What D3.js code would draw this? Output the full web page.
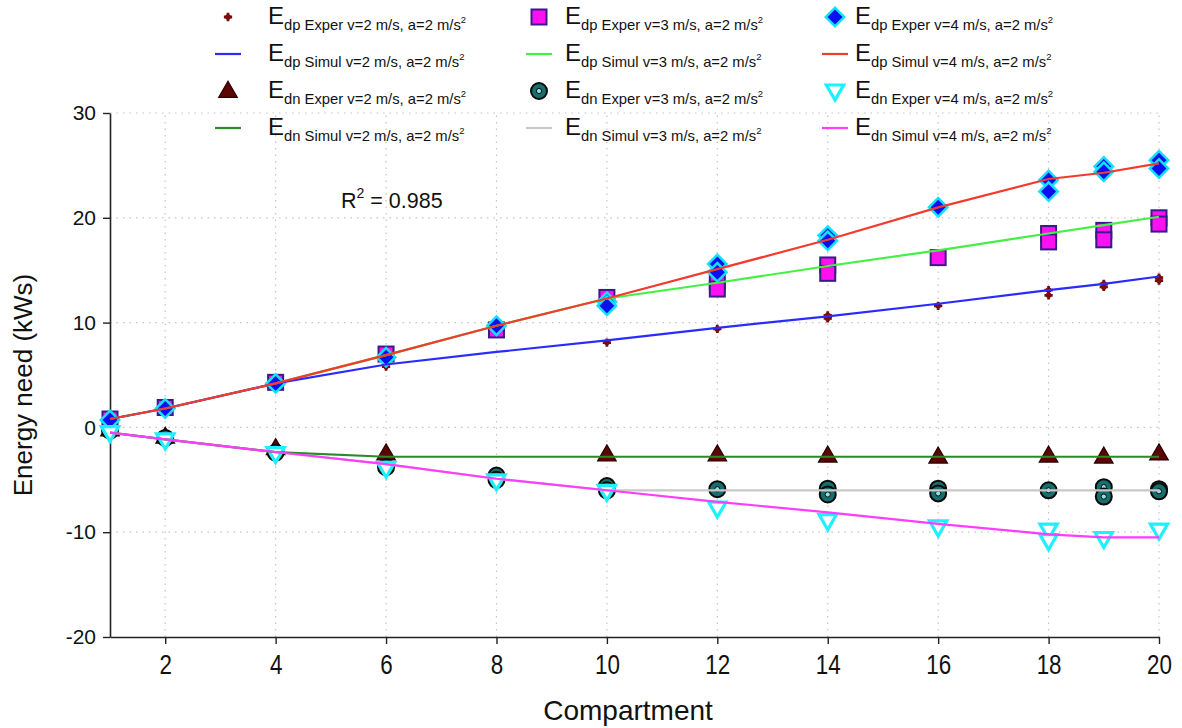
<!DOCTYPE html>
<html><head><meta charset="utf-8">
<script src="https://cdn.jsdelivr.net/npm/d3@7"></script>
<style>
html,body{margin:0;padding:0;background:#fff;}
svg{display:block;font-family:"Liberation Sans",Arial,sans-serif;}
</style></head>
<body><svg id="c" width="1182" height="728"></svg>
<script>
// ---------- data ----------
const xTicks = [2,4,6,8,10,12,14,16,18,20];
const yTicks = [-20,-10,0,10,20,30];

const simX = [1,2,4,6,8,10,12,14,16,18,19,20];
const edpSim2 = [0.8,1.8,4.2,6.0,7.2,8.3,9.5,10.6,11.8,13.1,13.7,14.4];
const edpSim3 = [0.8,1.8,4.2,6.9,9.7,12.3,13.8,15.4,16.9,18.5,19.3,20.1];
const edpSim4 = [0.8,1.8,4.2,6.9,9.7,12.3,15.1,17.9,21.0,23.7,24.3,25.2];
const ednSim2 = [-0.5,-1.15,-2.35,-2.8,-2.8,-2.8,-2.8,-2.8,-2.8,-2.8,-2.8,-2.8];
const ednSim3 = [-0.5,-1.15,-2.35,-3.5,-4.9,-6.0,-6.0,-6.0,-6.0,-6.0,-6.0,-6.0];
const ednSim4 = [-0.5,-1.15,-2.35,-3.5,-4.9,-6.0,-7.1,-8.1,-9.2,-10.2,-10.5,-10.5];

const edpExp2X = [1,2,4,6,10,12,14,14,16,18,18,19,19,20,20];
const edpExp2Y = [0.4,1.8,4.3,5.8,8.1,9.4,10.7,10.4,11.6,13.1,12.6,13.7,13.4,14.3,14.0];
const edpExp3X = [1,2,4,6,8,10,12,12,14,14,16,18,18,19,19,20,20];
const edpExp3Y = [0.8,1.9,4.3,7.0,9.3,12.4,13.9,13.2,15.5,14.7,16.2,18.5,17.7,18.8,17.9,20.0,19.4];
const edpExp4X = [1,2,4,6,8,10,10,12,12,14,14,16,18,18,19,19,20,20];
const edpExp4Y = [0.7,1.8,4.2,6.7,9.7,12.0,11.6,15.6,14.8,18.3,17.8,21.0,23.6,22.5,24.9,24.4,25.5,24.7];
const ednExp2X = [1,2,4,6,10,12,14,16,18,19,20];
const ednExp2Y = [-0.2,-0.9,-2.0,-2.5,-2.6,-2.6,-2.7,-2.8,-2.7,-2.8,-2.5];
const ednExp3X = [1,2,4,6,8,8,10,10,12,14,14,16,16,18,19,19,20,20];
const ednExp3Y = [-0.3,-1.0,-2.4,-3.8,-4.6,-5.0,-5.6,-6.0,-5.9,-5.85,-6.4,-5.85,-6.3,-6.0,-5.7,-6.6,-5.9,-6.1];
const ednExp4X = [1,2,4,6,8,10,12,14,16,18,18,19,20];
const ednExp4Y = [-0.5,-1.2,-2.5,-3.9,-5.1,-6.1,-7.7,-8.9,-9.5,-9.8,-10.8,-10.6,-9.8];

const legendLabels = [
  ["dp"," Exper v=2 m/s, a=2 m/s"],["dp"," Simul v=2 m/s, a=2 m/s"],
  ["dn"," Exper v=2 m/s, a=2 m/s"],["dn"," Simul v=2 m/s, a=2 m/s"],
  ["dp"," Exper v=3 m/s, a=2 m/s"],["dp"," Simul v=3 m/s, a=2 m/s"],
  ["dn"," Exper v=3 m/s, a=2 m/s"],["dn"," Simul v=3 m/s, a=2 m/s"],
  ["dp"," Exper v=4 m/s, a=2 m/s"],["dp"," Simul v=4 m/s, a=2 m/s"],
  ["dn"," Exper v=4 m/s, a=2 m/s"],["dn"," Simul v=4 m/s, a=2 m/s"]
];
const rSquared = "0.985";

// ---------- styles ----------
const lineStyle = {
  edpSim2:{color:"#2b2bff"}, edpSim3:{color:"#44f044"}, edpSim4:{color:"#f23b2e"},
  ednSim2:{color:"#2a8a2a"}, ednSim3:{color:"#c8c8c8"}, ednSim4:{color:"#ff3cff"}
};

const svg = d3.select("#c");
const x = d3.scaleLinear().domain([1,20]).range([110,1159]);
const y = d3.scaleLinear().domain([-20,30]).range([637,113]);

// grid
const grid = svg.append("g");
grid.selectAll("line.v").data(xTicks).join("line")
  .attr("x1",d=>x(d)).attr("x2",d=>x(d)).attr("y1",y(-20)).attr("y2",y(30))
  .attr("stroke","#c4c4c4").attr("stroke-width",1.2).attr("stroke-dasharray","1.5,5");
grid.selectAll("line.h").data(yTicks.filter(d=>d>-20)).join("line")
  .attr("x1",x(1)).attr("x2",x(20)).attr("y1",d=>y(d)).attr("y2",d=>y(d))
  .attr("stroke","#c4c4c4").attr("stroke-width",1.2).attr("stroke-dasharray","1.5,5");

// axes
const ax = svg.append("g").attr("transform",`translate(${x(1)},0)`)
  .call(d3.axisLeft(y).tickValues(yTicks).tickFormat(d=>String(d)).tickSize(7).tickSizeOuter(0).tickPadding(7));
ax.selectAll("text").attr("font-size",21).attr("fill","#111").attr("font-family","Liberation Sans, Arial");
const bx = svg.append("g").attr("transform",`translate(0,${y(-20)})`)
  .call(d3.axisBottom(x).tickValues(xTicks).tickFormat(d=>String(d)).tickSize(7).tickSizeOuter(0).tickPadding(10));
bx.selectAll("text").attr("font-size",28).attr("fill","#111").attr("transform","scale(0.8,1)");
svg.selectAll(".domain").attr("stroke","#222").attr("stroke-width",1.6);
svg.selectAll(".tick line").attr("stroke","#222").attr("stroke-width",1.4);

// axis titles
svg.append("text").attr("transform",`translate(32,${(y(-20)+y(30))/2+10}) rotate(-90)`)
  .attr("text-anchor","middle").attr("font-size",26).attr("fill","#111").text("Energy need (kWs)");
svg.append("text").attr("x",628).attr("y",720)
  .attr("text-anchor","middle").attr("font-size",28).attr("fill","#111").text("Compartment");

// R²
const rt = svg.append("text").attr("x",341).attr("y",208).attr("font-size",21.5).attr("fill","#111");
rt.append("tspan").text("R");
rt.append("tspan").attr("dy",-10).attr("font-size",14).text("2");
rt.append("tspan").attr("dy",10).text(" = " + rSquared);

// ---------- marker drawers ----------
function drawDot(g,cx,cy){ g.append("path").attr("d",d3.symbol(d3.symbolCross,38)()).attr("transform",`translate(${cx},${cy})`).attr("fill","#7a0c0c");
  g.append("circle").attr("cx",cx).attr("cy",cy).attr("r",2.8).attr("fill","#7a0c0c"); }
function drawTri(g,cx,cy){ g.append("path").attr("d",d3.symbol(d3.symbolTriangle,150)()).attr("transform",`translate(${cx},${cy+1})`)
  .attr("fill","#5c0505").attr("stroke","#2a0000").attr("stroke-width",1.2); }
function drawSq(g,cx,cy){ g.append("rect").attr("x",cx-7.5).attr("y",cy-7.5).attr("width",15).attr("height",15)
  .attr("fill","#ff10f0").attr("stroke","#3a1a8a").attr("stroke-width",2); }
function drawCirc(g,cx,cy){ g.append("circle").attr("cx",cx).attr("cy",cy).attr("r",8).attr("fill","#166e6e").attr("stroke","#0a0a0a").attr("stroke-width",2);
  g.append("circle").attr("cx",cx).attr("cy",cy).attr("r",2.6).attr("fill","#8fe0e0").attr("stroke","#0a0a0a").attr("stroke-width",1); }
function drawDia(g,cx,cy){ g.append("path").attr("d",d3.symbol(d3.symbolSquare,170)()).attr("transform",`translate(${cx},${cy}) rotate(45)`)
  .attr("fill","#0a10ee").attr("stroke","#12e0ff").attr("stroke-width",2.5); }
function drawDown(g,cx,cy){ g.append("path").attr("d",d3.symbol(d3.symbolTriangle,130)()).attr("transform",`translate(${cx},${cy-1}) rotate(180)`)
  .attr("fill","#ffffff").attr("stroke","#1ff0ff").attr("stroke-width",3.2); }

// ---------- markers ----------
const mk = svg.append("g");
const expSeries = [
  [edpExp2X,edpExp2Y,drawDot],[ednExp2X,ednExp2Y,drawTri],
  [edpExp3X,edpExp3Y,drawSq],[ednExp3X,ednExp3Y,drawCirc],
  [edpExp4X,edpExp4Y,drawDia],[ednExp4X,ednExp4Y,drawDown]
];
expSeries.forEach(([xs,ys,fn])=>xs.forEach((xv,i)=>fn(mk,x(xv),y(ys[i]))));

// ---------- lines ----------
const lineGen = d3.line().x((d,i)=>x(simX[i])).y(d=>y(d));
const lines = [["ednSim3",ednSim3],["ednSim2",ednSim2],["ednSim4",ednSim4],
               ["edpSim3",edpSim3],["edpSim2",edpSim2],["edpSim4",edpSim4]];
lines.forEach(([k,arr])=>svg.append("path").datum(arr).attr("d",lineGen)
  .attr("fill","none").attr("stroke",lineStyle[k].color).attr("stroke-width",2.2));

// ---------- legend ----------
const legMarkers = [
  g=>drawDot(g,0,0), g=>lineSym(g,lineStyle.edpSim2.color), g=>drawTri(g,0,0), g=>lineSym(g,lineStyle.ednSim2.color),
  g=>drawSq(g,0,0), g=>lineSym(g,lineStyle.edpSim3.color), g=>drawCirc(g,0,0), g=>lineSym(g,lineStyle.ednSim3.color),
  g=>drawDia(g,0,0), g=>lineSym(g,lineStyle.edpSim4.color), g=>drawDown(g,0,0), g=>lineSym(g,lineStyle.ednSim4.color)
];
function lineSym(g,c){ g.append("line").attr("x1",-13).attr("x2",13).attr("y1",0).attr("y2",0).attr("stroke",c).attr("stroke-width",2.2); }
const colMarkerX = [228,539,835];
const colTextX = [268,565,855];
const rowY = [17,54,91,128];
legendLabels.forEach((lab,i)=>{
  const col = Math.floor(i/4), row = i%4;
  const g = svg.append("g").attr("transform",`translate(${colMarkerX[col]},${rowY[row]})`);
  legMarkers[i](g);
  const t = svg.append("text").attr("x",colTextX[col]).attr("y",rowY[row]+7).attr("fill","#111").attr("font-size",24);
  t.append("tspan").text("E");
  t.append("tspan").attr("dy",6).attr("font-size",14.8).text(lab[0]+lab[1]);
  t.append("tspan").attr("dy",-7).attr("font-size",9.5).text("2");
});
</script></body></html>
